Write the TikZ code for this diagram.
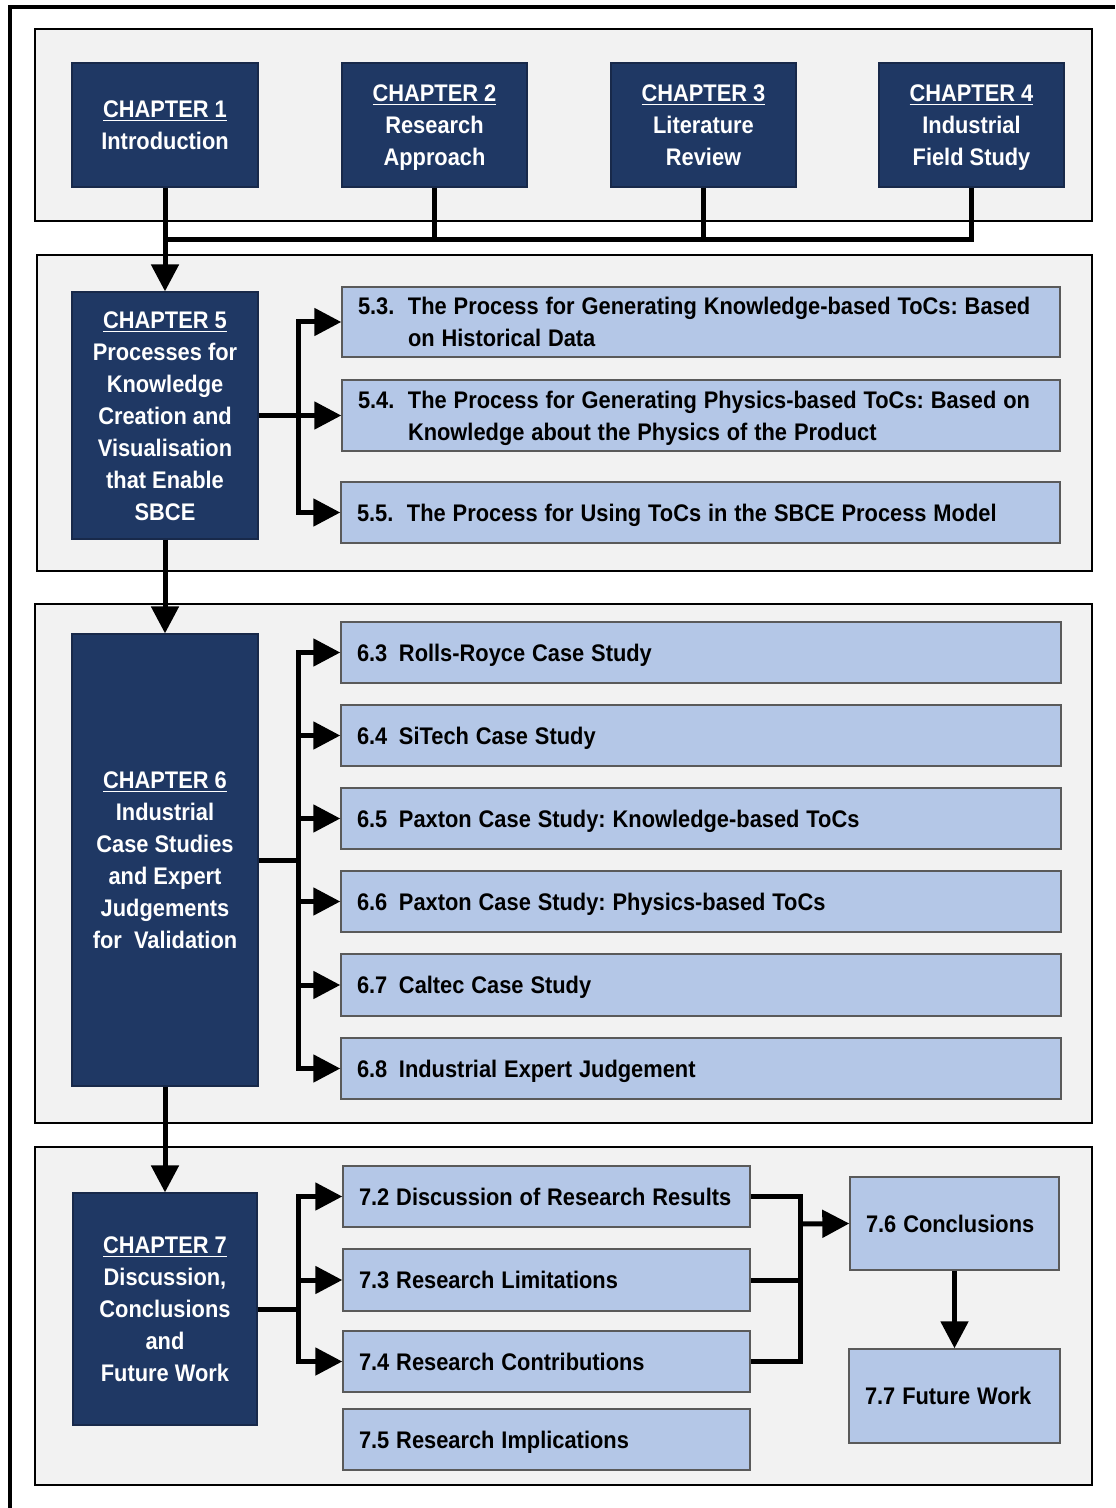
\documentclass[tikz,border=0pt]{standalone}
\usepackage{fontspec}
\setmainfont{Liberation Sans}[FakeStretch=0.91]
\usetikzlibrary{arrows.meta}

\definecolor{navy}{HTML}{1F3864}
\definecolor{navyedge}{HTML}{18294A}
\definecolor{lightblue}{HTML}{B4C7E7}
\definecolor{panel}{HTML}{F2F2F2}
\definecolor{edgegray}{HTML}{5A5A5A}

% box from corner (x1,y1) to (x2,y2), in drawing units
\newcommand\rbox[7]{%
  \pgfmathsetlengthmacro\bw{(#5-#3)*0.5pt}%
  \pgfmathsetlengthmacro\bh{(#6-#4)*0.5pt}%
  \pgfmathsetlengthmacro\tw{(#5-#3)*0.5pt-16pt}%
  \node[#2, minimum width=\bw, minimum height=\bh] (#1) at ({(#3+#5)/2},{(#4+#6)/2}) {#7};}

% struts so that text is centred on its capitals, with or without descenders
\newcommand\tstr{\rule{0pt}{11.6pt}}
\newcommand\bstr{\rule[-3pt]{0pt}{0pt}}
\newcommand\numcol[2]{\makebox[#1][l]{#2}}
\newcommand\chap[2]{\tstr\underline{CHAPTER #1}\\#2\bstr}
% one unbreakable line of section text, with tight word spacing
\newlength\secspace
\setlength\secspace{3.45pt}
\newcommand\tline[1]{\mbox{\spaceskip=\secspace #1}}
\newcommand\one[1]{\tstr\tline{#1}\bstr}

\begin{document}
\frenchspacing
\begin{tikzpicture}[x=0.5pt, y=-0.5pt,
  panelbox/.style={draw=black, line width=1.1pt, fill=panel, inner sep=0pt},
  chapter/.style={draw=navyedge, line width=0.6pt, fill=navy, text=white,
    align=center, inner sep=0pt, font=\fontsize{12}{16}\selectfont\bfseries},
  section/.style={draw=edgegray, line width=0.7pt, fill=lightblue, text=black,
    align=left, text width=\tw, inner xsep=8pt, inner ysep=0pt,
    font=\fontsize{12}{16}\selectfont\bfseries},
  wire/.style={line width=2.5pt},
  arrow/.style={wire, -{Triangle[length=13.5pt, width=13.5pt]}}]

\useasboundingbox (0,0) rectangle (1115,1508);

% outer frame
\draw[line width=1.7pt] (10,1508) -- (10,7) -- (1115,7);

% panels
\rbox{p1}{panelbox}{35}{29}{1092}{221}{}
\rbox{p2}{panelbox}{37}{255}{1092}{571}{}
\rbox{p3}{panelbox}{35}{604}{1092}{1123}{}
\rbox{p4}{panelbox}{35}{1147}{1092}{1485}{}

% chapter boxes
\rbox{ch1}{chapter}{72}{63}{258}{187}{\chap{1}{Introduction}}
\rbox{ch2}{chapter}{342}{63}{527}{187}{\chap{2}{Research\\Approach}}
\rbox{ch3}{chapter}{611}{63}{796}{187}{\chap{3}{Literature\\Review}}
\rbox{ch4}{chapter}{879}{63}{1064}{187}{\chap{4}{Industrial\\Field Study}}
\rbox{ch5}{chapter}{72}{292}{258}{539}{\chap{5}{Processes for\\Knowledge\\Creation and\\Visualisation\\that Enable\\SBCE}}
\rbox{ch6}{chapter}{72}{634}{258}{1086}{\chap{6}{Industrial\\Case Studies\\and Expert\\Judgements\\for\ \ Validation}}
\rbox{ch7}{chapter}{73}{1193}{257}{1425}{\chap{7}{Discussion,\\Conclusions\\and\\Future Work}}

% chapter 5 sections
\rbox{s53}{section}{342}{287}{1060}{357}{\tstr\tline{\numcol{25pt}{5.3.}The Process for Generating Knowledge-based ToCs: Based}\\\hspace*{25pt}\tline{on Historical Data}\bstr}
\rbox{s54}{section}{342}{380}{1060}{451}{\tstr\tline{\numcol{25pt}{5.4.}The Process for Generating Physics-based ToCs: Based on}\\\hspace*{25pt}\tline{Knowledge about the Physics of the Product}\bstr}
\rbox{s55}{section}{341}{482}{1060}{543}{\one{\numcol{25pt}{5.5.}The Process for Using ToCs in the SBCE Process Model}}

% chapter 6 sections
\rbox{s63}{section}{341}{622}{1061}{683}{\one{\numcol{21pt}{6.3}Rolls-Royce Case Study}}
\rbox{s64}{section}{341}{705}{1061}{766}{\one{\numcol{21pt}{6.4}SiTech Case Study}}
\rbox{s65}{section}{341}{788}{1061}{849}{\one{\numcol{21pt}{6.5}Paxton Case Study: Knowledge-based ToCs}}
\rbox{s66}{section}{341}{871}{1061}{932}{\one{\numcol{21pt}{6.6}Paxton Case Study: Physics-based ToCs}}
\rbox{s67}{section}{341}{954}{1061}{1016}{\one{\numcol{21pt}{6.7}Caltec Case Study}}
\rbox{s68}{section}{341}{1038}{1061}{1099}{\one{\numcol{21pt}{6.8}Industrial Expert Judgement}}

% chapter 7 sections
\rbox{s72}{section}{343}{1166}{750}{1227}{\one{7.2 Discussion of Research Results}}
\rbox{s73}{section}{343}{1249}{750}{1311}{\one{7.3 Research Limitations}}
\rbox{s74}{section}{343}{1331}{750}{1392}{\one{7.4 Research Contributions}}
\rbox{s75}{section}{343}{1409}{750}{1470}{\one{7.5 Research Implications}}
\rbox{s76}{section}{850}{1177}{1059}{1270}{\one{7.6 Conclusions}}
\rbox{s77}{section}{849}{1349}{1060}{1443}{\one{7.7 Future Work}}

% junction points
\coordinate (bus) at (165,240);
\coordinate (b5) at (298,415.5);
\coordinate (b6) at (298,860);
\coordinate (b7) at (298,1309);
\coordinate (m7) at (800,1224);

% chapters 1-4 feed chapter 5
\draw[wire] (ch4.south) |- (ch1.south |- bus);
\draw[wire] (ch2.south) -- (ch2.south |- bus);
\draw[wire] (ch3.south) -- (ch3.south |- bus);
\draw[arrow] (ch1.south) -- (ch5.north);
\draw[arrow] (ch5.south) -- (ch6.north);
\draw[arrow] (ch6.south) -- (ch7.north);

% chapter 5 branches
\draw[arrow] (ch5.east) -- (s54.west);
\draw[arrow] (b5) |- (s53.west);
\draw[arrow] (b5) |- (s55.west);

% chapter 6 branches
\draw[wire] (ch6.east) -- (b6);
\foreach \s in {s63,s64,s65,s66,s67,s68}
  \draw[arrow] (b6) |- (\s.west);

% chapter 7 branches
\draw[wire] (ch7.east) -- (b7);
\foreach \s in {s72,s73,s74}
  \draw[arrow] (b7) |- (\s.west);

% results merge into conclusions
\draw[wire] (s72.east) -| (m7);
\draw[wire] (s74.east) -| (m7);
\draw[wire] (s73.east) -- (s73.east -| m7);
\draw[arrow] (m7) -- (s76.west);
\draw[arrow] (s76.south) -- (s77.north);

\end{tikzpicture}
\end{document}
